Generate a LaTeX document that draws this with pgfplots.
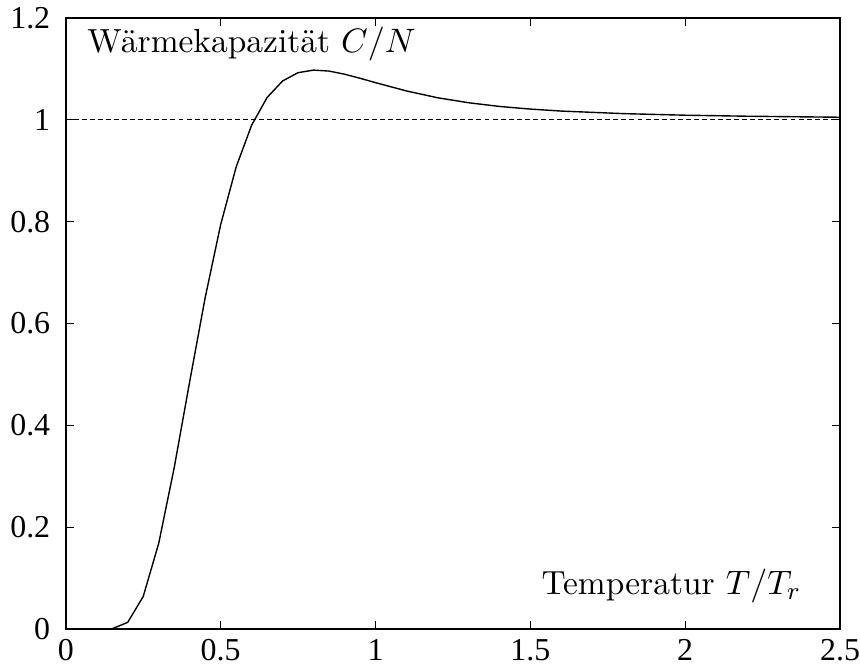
\documentclass[border=0pt]{standalone}
\usepackage{fontspec}
\usepackage{pgfplots}
\pgfplotsset{compat=1.18}
\newfontfamily\timesfont{Liberation Serif}
\begin{document}
\begin{tikzpicture}
\begin{axis}[
  scale only axis,
  width=250pt, height=197.4pt,
  xmin=0, xmax=2.5, ymin=0, ymax=1.2,
  xtick={0,0.5,1,1.5,2,2.5},
  ytick={0,0.2,0.4,0.6,0.8,1,1.2},
  xticklabel={\timesfont\pgfmathprintnumber[assume math mode=true,fixed]{\tick}},
  yticklabel={\timesfont\pgfmathprintnumber[assume math mode=true,fixed]{\tick}},
  tick align=inside,
  major tick length=2.6pt,
  tick style={black, line width=0.4pt},
  axis line style={line width=0.5pt},
  ticklabel style={font=\timesfont\fontsize{10.3}{12}\selectfont},
  xticklabel style={inner xsep=0pt, inner ysep=2pt, yshift=-1pt},
  yticklabel style={inner ysep=2.3pt, xshift=-1.5pt},
  clip=false,
]
\addplot[black, line width=0.4pt, dash pattern=on 1.6pt off 1pt] coordinates {(0,1) (2.5,1)};
\addplot[black, line width=0.45pt] table {
x y
0 0
0.05 0
0.1 0
0.15 0.001
0.2 0.0136
0.25 0.0643
0.3 0.1685
0.35 0.3169
0.4 0.4859
0.45 0.6507
0.5 0.7940
0.55 0.9072
0.6 0.9893
0.65 1.0437
0.7 1.0762
0.75 1.0925
0.8 1.0975
0.85 1.0956
0.9 1.0895
0.95 1.0815
1.0 1.0729
1.1 1.0566
1.2 1.0433
1.3 1.0335
1.4 1.0262
1.5 1.0210
1.6 1.0171
1.8 1.0121
2.0 1.0090
2.2 1.0070
2.5 1.0050
};
\node[anchor=base west, inner sep=0pt, font=\fontsize{10.8}{13}\selectfont] at (axis cs:0.068,1.133) {Wärmekapazität $C/N$};
\node[anchor=base east, inner sep=0pt, font=\fontsize{10.8}{13}\selectfont] at (axis cs:2.377,0.069) {Temperatur $T/T_r$};
\end{axis}
\end{tikzpicture}
\end{document}
